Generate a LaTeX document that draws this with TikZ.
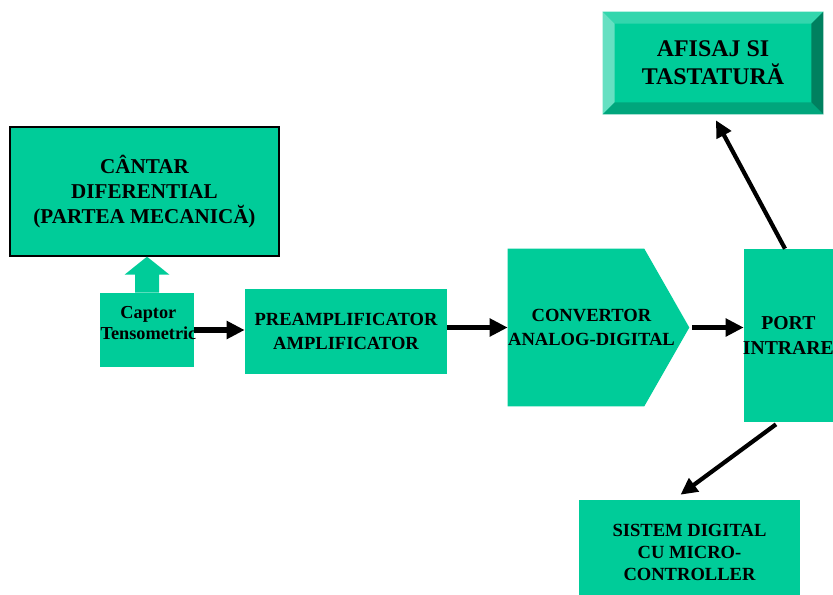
\documentclass[tikz,border=0pt]{standalone}
\usepackage{fontspec}
\setmainfont{Liberation Serif}
\usepackage{tikz}
\usetikzlibrary{calc}
\usetikzlibrary{arrows.meta}
\usetikzlibrary{backgrounds}
\definecolor{G0}{HTML}{00CC99}
\definecolor{Gtop}{HTML}{33D6AD}
\definecolor{Gleft}{HTML}{66E0C2}
\definecolor{Gbot}{HTML}{00A67C}
\definecolor{Gright}{HTML}{00805F}

\begin{document}
\begin{tikzpicture}[x=0.025cm,y=-0.025cm]
\tikzstyle{blk}=[fill=G0,shape=rectangle,inner sep=0pt,align=center]
\tikzstyle{arw}=[line width=4pt,-{Triangle[length=0.45cm,width=0.43cm]}]
\tikzstyle{arwd}=[line width=3pt,-{Triangle[length=0.42cm,width=0.4cm]}]

\clip (0,0) rectangle (833,594);

\node[blk,minimum width=5.5cm,minimum height=2.55cm,font=\bfseries\fontsize{17}{20}\selectfont](afis) at (713,63){AFISAJ SI\\TASTATURĂ};
\node[blk,draw=black,line width=0.9pt,minimum width=6.725cm,minimum height=3.225cm,font=\bfseries\fontsize{15}{17.5}\selectfont](cantar) at (144.5,191.5){CÂNTAR\\DIFERENTIAL\\(PARTEA MECANICĂ)};
\node[blk,minimum width=2.35cm,minimum height=1.85cm,label={[yshift=5pt,xshift=1pt,align=center,font=\bfseries\fontsize{13}{15}\selectfont]center:Captor\\Tensometric}](captor) at (147,330){};
\node[blk,minimum width=5.05cm,minimum height=2.125cm,font=\bfseries\fontsize{13.2}{16.5}\selectfont](preamp) at (346,331.5){PREAMPLIFICATOR\\AMPLIFICATOR};
\node[minimum width=4.525cm,minimum height=3.925cm,inner sep=0pt,label={[xshift=-5pt,align=center,font=\bfseries\fontsize{13.2}{16.5}\selectfont]center:CONVERTOR\\ANALOG-DIGITAL}](conv) at (598.5,327.5){};
\node[blk,minimum width=2.5cm,minimum height=4.325cm,label={[xshift=-4pt,align=center,font=\bfseries\fontsize{14}{18}\selectfont]center:PORT\\INTRARE}](port) at (794,335.5){};
\node[blk,minimum width=5.525cm,minimum height=2.6cm,font=\bfseries\fontsize{13.2}{15.6}\selectfont](sistem) at (689.5,552){SISTEM DIGITAL\\CU MICRO-\\CONTROLLER};
%
% pointed body of the converter
\begin{pgfonlayer}{background}
\fill[G0] (conv.north west) -- ($(conv.north east)+(-45,0)$) -- (conv.east) -- ($(conv.south east)+(-45,0)$) -- (conv.south west) -- cycle;
\end{pgfonlayer}
%
% bevelled edges of the display box
\fill[Gtop] (afis.north west) -- (afis.north east) -- ($(afis.north east)+(-12,12)$) -- ($(afis.north west)+(12,12)$) -- cycle;
\fill[Gleft] (afis.north west) -- ($(afis.north west)+(12,12)$) -- ($(afis.south west)+(12,-12)$) -- (afis.south west) -- cycle;
\fill[Gbot] (afis.south west) -- (afis.south east) -- ($(afis.south east)+(-12,-12)$) -- ($(afis.south west)+(12,-12)$) -- cycle;
\fill[Gright] (afis.north east) -- ($(afis.north east)+(-12,12)$) -- ($(afis.south east)+(-12,-12)$) -- (afis.south east) -- cycle;
%
% block arrow from the sensor up to the scale
\fill[G0] ($(captor.north)+(-12,0)$) -- ($(captor.north)+(-12,-18)$) -- ($(captor.north)+(-22.5,-18)$) -- (cantar.south -| captor.north) -- ($(captor.north)+(22.5,-18)$) -- ($(captor.north)+(12,-18)$) -- ($(captor.north)+(12,0)$) -- cycle;
%
\draw[arw] (captor.east) -- (captor.east -| preamp.west);
\draw[arw] ($(preamp.east)+(0,-4)$) -- ($(preamp.east -| conv.west)+(0,-4)$);
\draw[arw] ($(conv.east)+(3,0)$) -- (conv.east -| port.west);
\draw[arwd] ($(port.north)+(-9,0)$) -- ($(afis.south)+(3,6)$);
\draw[arwd] ($(port.south)+(-18,2)$) -- ($(sistem.north)+(-9,-5)$);
\end{tikzpicture}
\end{document}
